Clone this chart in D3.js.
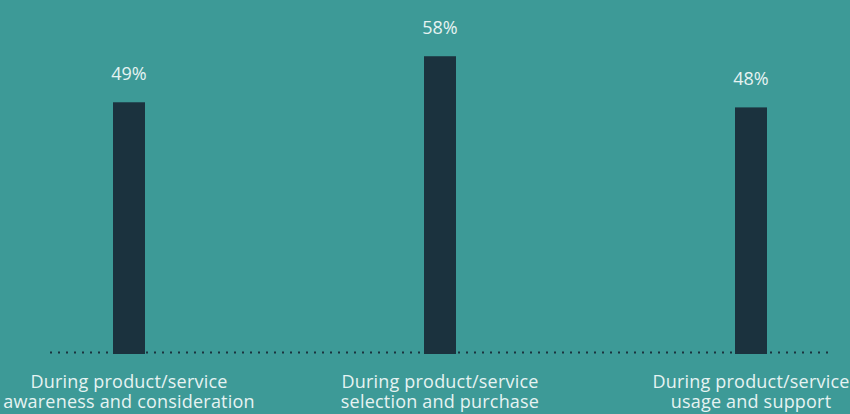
<!DOCTYPE html>
<html><head><meta charset="utf-8">
<script src="https://cdn.jsdelivr.net/npm/d3@7"></script>
<style>
html,body{margin:0;padding:0;background:#3d9a97;}
svg{display:block;font-family:"Open Sans","Noto Sans",sans-serif;}
</style></head>
<body>
<svg id="chart" width="850" height="414"></svg>
<script>
const categories = [
  ["During product/service", "awareness and consideration"],
  ["During product/service", "selection and purchase"],
  ["During product/service", "usage and support"]
];
const values = [49, 58, 48];
const valueLabels = ["49%", "58%", "48%"];

const W = 850, H = 414;
const svg = d3.select("#chart");
svg.append("rect").attr("width", W).attr("height", H).attr("fill", "#3d9a97");

const x = d3.scaleBand().domain(d3.range(categories.length)).range([-26.5, 906.5]).paddingInner(0.897).paddingOuter(0.4485);
const y = d3.scaleLinear().domain([0, 60]).range([353, 46]);

const barW = 32;
const cx = i => x(i) + x.bandwidth() / 2;

// baseline dotted
svg.append("line").attr("x1", 50).attr("x2", 828).attr("y1", 352.5).attr("y2", 352.5)
  .attr("stroke", "#1b323e").attr("stroke-width", 2).attr("stroke-dasharray", "2,6");

svg.selectAll("rect.bar").data(values).join("rect").attr("class", "bar")
  .attr("x", (d, i) => cx(i) - barW / 2)
  .attr("width", barW)
  .attr("y", d => y(d))
  .attr("height", d => y(0) - y(d) + 1)
  .attr("fill", "#1b323e");

svg.selectAll("text.val").data(values).join("text").attr("class", "val")
  .attr("x", (d, i) => cx(i))
  .attr("y", d => y(d) - 22)
  .attr("text-anchor", "middle")
  .attr("fill", "#e6f3f2")
  .attr("font-size", 18)
  .text((d, i) => valueLabels[i]);

const g = svg.selectAll("text.cat").data(categories).join("text").attr("class", "cat")
  .attr("text-anchor", "middle")
  .attr("fill", "#e6f3f2")
  .attr("font-size", 18)
  .attr("letter-spacing", 0.2);
g.selectAll("tspan").data((d, i) => d.map(t => ({t, i}))).join("tspan")
  .attr("x", d => cx(d.i))
  .attr("y", (d, j) => 388 + j * 20)
  .text(d => d.t);
</script>
</body></html>
